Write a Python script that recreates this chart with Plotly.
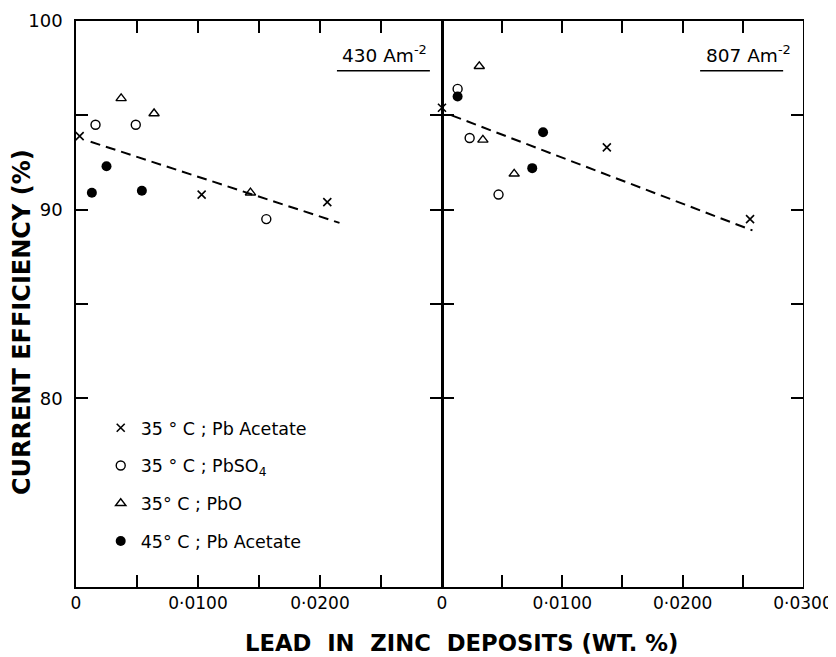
import plotly.graph_objects as go

# ---- data ----
series_names = ["35 ° C ; Pb Acetate", "35 ° C ; PbSO<sub>4</sub>", "35° C ; PbO", "45° C ; Pb Acetate"]

# 430 A m^-2 panel
ac35_430_x = [0.0003, 0.0103, 0.0206]
ac35_430_y = [93.9, 90.8, 90.4]
so4_430_x = [0.0016, 0.0049, 0.0156]
so4_430_y = [94.5, 94.5, 89.5]
pbo_430_x = [0.0037, 0.0064, 0.0143]
pbo_430_y = [95.9, 95.1, 90.9]
ac45_430_x = [0.0013, 0.0025, 0.0054]
ac45_430_y = [90.9, 92.3, 91.0]
fit_430_x = [0.0012, 0.0216]
fit_430_y = [93.6, 89.3]

# 807 A m^-2 panel
ac35_807_x = [0.0, 0.0137, 0.0256]
ac35_807_y = [95.4, 93.3, 89.5]
so4_807_x = [0.0013, 0.0023, 0.0047]
so4_807_y = [96.4, 93.8, 90.8]
pbo_807_x = [0.0031, 0.0034, 0.0060]
pbo_807_y = [97.6, 93.7, 91.9]
ac45_807_x = [0.0013, 0.0075, 0.0084]
ac45_807_y = [96.0, 92.2, 94.1]
fit_807_x = [0.0008, 0.0258]
fit_807_y = [95.0, 88.9]

x_tickvals_left = [0, 0.005, 0.010, 0.015, 0.020, 0.025]
x_ticktext_left = ["0", "", "0·0100", "", "0·0200", ""]
x_tickvals_right = [0, 0.005, 0.010, 0.015, 0.020, 0.025, 0.030]
x_ticktext_right = ["0", "", "0·0100", "", "0·0200", "", "0·0300"]
y_tickvals = [80, 85, 90, 95, 100]
y_ticktext = ["80", "", "90", "", "100"]

panel_labels = ["430 Am<sup>-2</sup>", "807 Am<sup>-2</sup>"]

# ---- styles ----
styles = [
    dict(symbol="x-thin-open", size=8, color="black", line=dict(color="black", width=1.6)),
    dict(symbol="circle-open", size=9, color="black", line=dict(color="black", width=1.4)),
    dict(symbol="triangle-up-open", size=9, color="black", line=dict(color="black", width=1.4)),
    dict(symbol="circle", size=10, color="black", line=dict(color="black", width=0)),
]

FONT = "DejaVu Sans"
fig = go.Figure()

left = [(ac35_430_x, ac35_430_y), (so4_430_x, so4_430_y), (pbo_430_x, pbo_430_y), (ac45_430_x, ac45_430_y)]
right = [(ac35_807_x, ac35_807_y), (so4_807_x, so4_807_y), (pbo_807_x, pbo_807_y), (ac45_807_x, ac45_807_y)]

for i, (xs, ys) in enumerate(left):
    fig.add_trace(go.Scatter(x=xs, y=ys, mode="markers", name=series_names[i],
                             marker=styles[i], xaxis="x", yaxis="y",
                             legendgroup=f"g{i}", cliponaxis=False))
for i, (xs, ys) in enumerate(right):
    fig.add_trace(go.Scatter(x=xs, y=ys, mode="markers", name=series_names[i],
                             marker=styles[i], xaxis="x2", yaxis="y2",
                             legendgroup=f"g{i}", showlegend=False, cliponaxis=False))

fig.add_trace(go.Scatter(x=fit_430_x, y=fit_430_y, mode="lines", showlegend=False,
                         line=dict(color="black", width=2, dash="10px,6px"), xaxis="x", yaxis="y"))
fig.add_trace(go.Scatter(x=fit_807_x, y=fit_807_y, mode="lines", showlegend=False,
                         line=dict(color="black", width=2, dash="10px,6px"), xaxis="x2", yaxis="y2"))

split = 0.5034
axis_common = dict(showline=True, linecolor="black", ticks="inside",
                   tickcolor="black", tickwidth=1.6, showgrid=False, zeroline=False,
                   automargin=False)
xfont = dict(family=FONT, size=17, color="black")
yfont = dict(family=FONT, size=18, color="black")

fig.update_layout(
    width=828, height=649,
    margin=dict(l=68, r=33, t=13, b=70, autoexpand=False),
    plot_bgcolor="white", paper_bgcolor="white",
    xaxis=dict(domain=[0, split], range=[0, 0.030], tickvals=x_tickvals_left,
               ticktext=x_ticktext_left, ticklen=12, mirror="ticks", linewidth=1.6,
               ticklabelstandoff=0, anchor="y", tickfont=xfont, **axis_common),
    xaxis2=dict(domain=[split, 1], range=[0, 0.030], tickvals=x_tickvals_right,
                ticktext=x_ticktext_right, ticklen=12, mirror="ticks", linewidth=1.6,
                ticklabelstandoff=0, anchor="y2", tickfont=xfont, **axis_common),
    yaxis=dict(domain=[0, 1], range=[70, 100], tickvals=y_tickvals, ticktext=y_ticktext,
               ticklen=12, mirror="ticks", anchor="x", ticklabelstandoff=8, linewidth=1.6,
               tickfont=yfont, **axis_common),
    yaxis2=dict(domain=[0, 1], range=[70, 100], tickvals=y_tickvals, ticklen=12,
                mirror="ticks", anchor="x2", matches="y", showticklabels=False, linewidth=1,
                **axis_common),
    legend=dict(x=0.034, y=0.313, xanchor="left", yanchor="top", bgcolor="rgba(0,0,0,0)",
                font=dict(family=FONT, size=17.5, color="black"), tracegroupgap=12,
                itemsizing="trace"),
    showlegend=True,
    annotations=[
        dict(text=panel_labels[0], xref="x domain", yref="y domain", x=0.842, y=0.941,
             xanchor="center", yanchor="middle",
             showarrow=False, font=dict(family=FONT, size=18.5, color="black")),
        dict(text=panel_labels[1], xref="x2 domain", yref="y2 domain", x=0.848, y=0.941,
             xanchor="center", yanchor="middle",
             showarrow=False, font=dict(family=FONT, size=18.5, color="black")),
        dict(text="LEAD&nbsp; IN&nbsp; ZINC&nbsp; DEPOSITS&nbsp;(WT.&nbsp;%)", xref="paper", yref="paper",
             x=0.530, y=-0.099, xanchor="center", yanchor="middle", showarrow=False,
             font=dict(family=FONT, size=22.7, color="black", weight="bold")),
        dict(text="CURRENT EFFICIENCY (%)", xref="paper", yref="paper",
             x=-0.0743, y=0.468, xanchor="center", yanchor="middle", textangle=-90, showarrow=False,
             font=dict(family=FONT, size=24, color="black", weight="bold")),
    ],
    shapes=[
        dict(type="line", xref="x domain", yref="y domain", x0=0.713, x1=0.967, y0=0.912, y1=0.912,
             line=dict(color="black", width=1.6)),
        dict(type="line", xref="x2 domain", yref="y2 domain", x0=0.715, x1=0.945, y0=0.912, y1=0.912,
             line=dict(color="black", width=1.6)),
    ],
)

fig.write_html("out.html")
